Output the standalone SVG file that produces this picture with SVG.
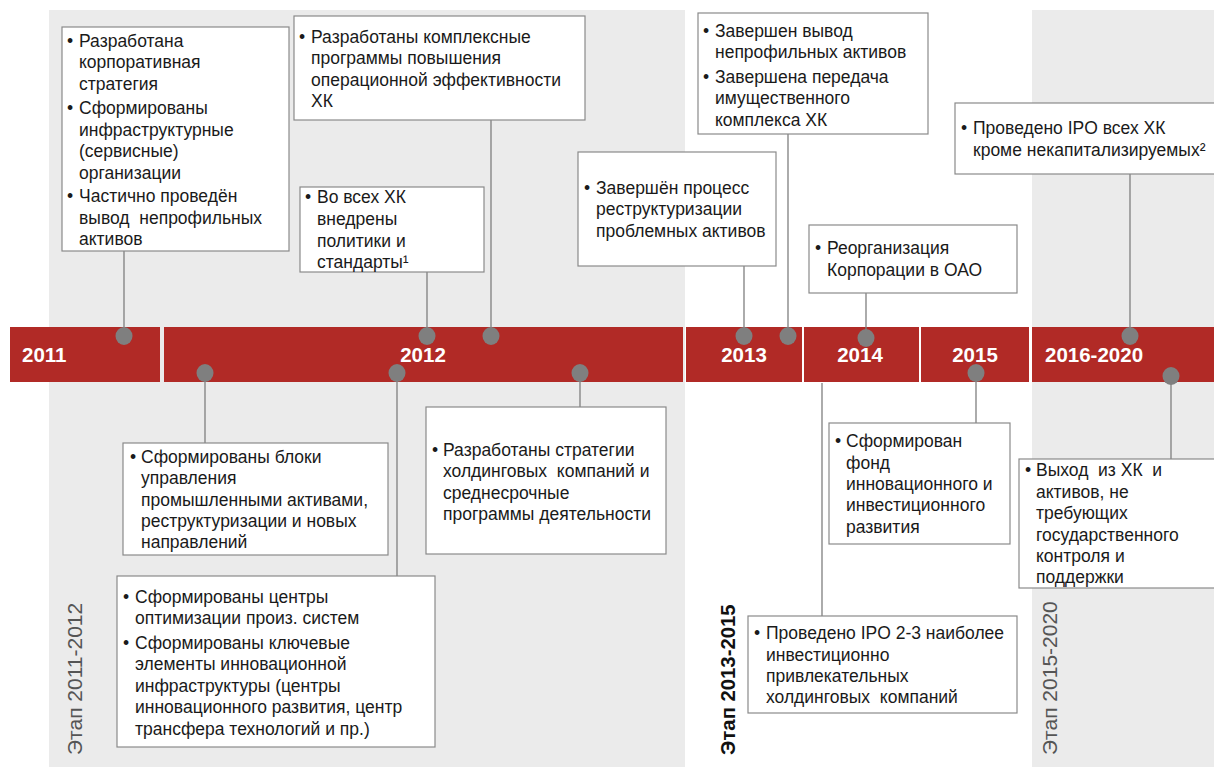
<svg xmlns="http://www.w3.org/2000/svg" width="1214" height="767" viewBox="0 0 1214 767">
<style>
.bg{fill:#ebebeb}
.seg{fill:#b12a26}
.box{fill:#fff;stroke:#8a8a8a;stroke-width:1.2}
.t{font-family:"Liberation Sans",Arial,sans-serif;font-size:17.5px;fill:#1a1a1a}
.yr{font-family:"Liberation Sans",Arial,sans-serif;font-size:20.5px;font-weight:bold;fill:#fff}
.stage{font-family:"Liberation Sans",Arial,sans-serif;font-size:21px;fill:#555}
.con line{stroke:#7f7f7f;stroke-width:1.3}
.dot{fill:#7f7f7f}
</style>
<rect width="1214" height="767" fill="#fff"/>
<g id="backgrounds">
<rect class="bg" x="49" y="10" width="636" height="757"/>
<rect class="bg" x="1032" y="10" width="182" height="757"/>
</g>
<g id="stages">
<text class="stage" transform="translate(82,755) rotate(-90)">Этап 2011-2012</text>
<text class="stage" transform="translate(735,755) rotate(-90)" style="fill:#111;font-weight:bold;font-size:20.3px">Этап 2013-2015</text>
<text class="stage" transform="translate(1057,755) rotate(-90)">Этап 2015-2020</text>
</g>
<g id="timeline">
<rect class="seg" x="10" y="327" width="150" height="55"/>
<rect class="seg" x="164" y="327" width="519" height="55"/>
<rect class="seg" x="686" y="327" width="116" height="55"/>
<rect class="seg" x="804" y="327" width="115" height="55"/>
<rect class="seg" x="921" y="327" width="108" height="55"/>
<rect class="seg" x="1032" y="327" width="182" height="55"/>
<text class="yr" x="22" y="362">2011</text>
<text class="yr" x="423" y="362" text-anchor="middle">2012</text>
<text class="yr" x="744" y="362" text-anchor="middle">2013</text>
<text class="yr" x="860" y="362" text-anchor="middle">2014</text>
<text class="yr" x="975" y="362" text-anchor="middle">2015</text>
<text class="yr" x="1045" y="362">2016-2020</text>
</g>
<g id="connectors" class="con">
<line x1="124" y1="251" x2="124" y2="335"/>
<line x1="491" y1="120" x2="491" y2="335"/>
<line x1="427" y1="272" x2="427" y2="335"/>
<line x1="744" y1="266" x2="744" y2="335"/>
<line x1="788" y1="134" x2="788" y2="335"/>
<line x1="866" y1="293" x2="866" y2="338"/>
<line x1="1130" y1="174" x2="1130" y2="336"/>
<line x1="205" y1="372" x2="205" y2="443"/>
<line x1="397" y1="372" x2="397" y2="576"/>
<line x1="580" y1="372" x2="580" y2="407"/>
<line x1="822" y1="383" x2="822" y2="616"/>
<line x1="976" y1="372" x2="976" y2="423"/>
<line x1="1171" y1="376" x2="1171" y2="459"/>
<ellipse class="dot" cx="124" cy="336" rx="8.5" ry="9"/>
<ellipse class="dot" cx="491" cy="336" rx="8.5" ry="9"/>
<ellipse class="dot" cx="427" cy="336" rx="8.5" ry="9"/>
<ellipse class="dot" cx="744" cy="336" rx="8.5" ry="9"/>
<ellipse class="dot" cx="788" cy="336" rx="8.5" ry="9"/>
<ellipse class="dot" cx="866" cy="338" rx="8.5" ry="9"/>
<ellipse class="dot" cx="1130" cy="336" rx="8.5" ry="9"/>
<ellipse class="dot" cx="205" cy="373" rx="8.5" ry="9"/>
<ellipse class="dot" cx="397" cy="373" rx="8.5" ry="9"/>
<ellipse class="dot" cx="580" cy="373" rx="8.5" ry="9"/>
<ellipse class="dot" cx="976" cy="373" rx="8.5" ry="9"/>
<ellipse class="dot" cx="1171" cy="376" rx="8.5" ry="9"/>
</g>
<g id="boxA">
<rect class="box" x="62" y="27" width="227" height="224"/>
<text class="t"><tspan x="67" y="47">•</tspan><tspan x="79" y="47">Разработана</tspan><tspan x="79" y="68">корпоративная</tspan><tspan x="79" y="90">стратегия</tspan><tspan x="67" y="114">•</tspan><tspan x="79" y="114">Сформированы</tspan><tspan x="79" y="136">инфраструктурные</tspan><tspan x="79" y="157">(сервисные)</tspan><tspan x="79" y="179">организации</tspan><tspan x="67" y="202">•</tspan><tspan x="79" y="202">Частично проведён</tspan><tspan x="79" y="224">вывод&#160; непрофильных</tspan><tspan x="79" y="245">активов</tspan></text>
</g>
<g id="boxB">
<rect class="box" x="294" y="16" width="291" height="104"/>
<text class="t"><tspan x="299" y="43">•</tspan><tspan x="311" y="43">Разработаны комплексные</tspan><tspan x="311" y="64">программы повышения</tspan><tspan x="311" y="86">операционной эффективности</tspan><tspan x="311" y="107">ХК</tspan></text>
</g>
<g id="boxC">
<rect class="box" x="300" y="187" width="184" height="85"/>
<text class="t"><tspan x="305" y="203">•</tspan><tspan x="317" y="203">Во всех ХК</tspan><tspan x="317" y="225">внедрены</tspan><tspan x="317" y="247">политики и</tspan><tspan x="317" y="268">стандарты¹</tspan></text>
</g>
<g id="boxD">
<rect class="box" x="578" y="152" width="198" height="114"/>
<text class="t"><tspan x="584" y="194">•</tspan><tspan x="596" y="194">Завершён процесс</tspan><tspan x="596" y="215">реструктуризации</tspan><tspan x="596" y="237">проблемных активов</tspan></text>
</g>
<g id="boxE">
<rect class="box" x="698" y="13" width="230" height="121"/>
<text class="t"><tspan x="703" y="37">•</tspan><tspan x="715" y="37">Завершен вывод</tspan><tspan x="715" y="58">непрофильных активов</tspan><tspan x="703" y="83">•</tspan><tspan x="715" y="83">Завершена передача</tspan><tspan x="715" y="104">имущественного</tspan><tspan x="715" y="126">комплекса ХК</tspan></text>
</g>
<g id="boxF">
<rect class="box" x="809" y="225" width="208" height="68"/>
<text class="t"><tspan x="815" y="254">•</tspan><tspan x="827" y="254">Реорганизация</tspan><tspan x="827" y="276">Корпорации в ОАО</tspan></text>
</g>
<g id="boxG">
<rect class="box" x="955" y="103" width="265" height="71"/>
<text class="t"><tspan x="961" y="134">•</tspan><tspan x="973" y="134">Проведено IPO всех ХК</tspan><tspan x="973" y="156">кроме некапитализируемых²</tspan></text>
</g>
<g id="boxH">
<rect class="box" x="123" y="443" width="265" height="112"/>
<text class="t"><tspan x="130" y="463">•</tspan><tspan x="141" y="463">Сформированы блоки</tspan><tspan x="141" y="484">управления</tspan><tspan x="141" y="506">промышленными активами,</tspan><tspan x="141" y="527">реструктуризации и новых</tspan><tspan x="141" y="548">направлений</tspan></text>
</g>
<g id="boxI">
<rect class="box" x="117" y="576" width="318" height="171"/>
<text class="t"><tspan x="123" y="603">•</tspan><tspan x="135" y="603">Сформированы центры</tspan><tspan x="135" y="624">оптимизации произ. систем</tspan><tspan x="123" y="649">•</tspan><tspan x="135" y="649">Сформированы ключевые</tspan><tspan x="135" y="670">элементы инновационной</tspan><tspan x="135" y="692">инфраструктуры (центры</tspan><tspan x="135" y="713">инновационного развития, центр</tspan><tspan x="135" y="735">трансфера технологий и пр.)</tspan></text>
</g>
<g id="boxJ">
<rect class="box" x="426" y="407" width="240" height="147"/>
<text class="t"><tspan x="432" y="456">•</tspan><tspan x="443" y="456">Разработаны стратегии</tspan><tspan x="443" y="477">холдинговых&#160; компаний и</tspan><tspan x="443" y="499">среднесрочные</tspan><tspan x="443" y="520">программы деятельности</tspan></text>
</g>
<g id="boxK">
<rect class="box" x="748" y="616" width="269" height="97"/>
<text class="t"><tspan x="754" y="639">•</tspan><tspan x="766" y="639">Проведено IPO 2-3 наиболее</tspan><tspan x="766" y="661">инвестиционно</tspan><tspan x="766" y="682">привлекательных</tspan><tspan x="766" y="703">холдинговых&#160; компаний</tspan></text>
</g>
<g id="boxL">
<rect class="box" x="829" y="423" width="181" height="121"/>
<text class="t"><tspan x="835" y="447">•</tspan><tspan x="846" y="447">Сформирован</tspan><tspan x="846" y="469">фонд</tspan><tspan x="846" y="490">инновационного и</tspan><tspan x="846" y="511">инвестиционного</tspan><tspan x="846" y="533">развития</tspan></text>
</g>
<g id="boxM">
<rect class="box" x="1019" y="459" width="200" height="129"/>
<text class="t"><tspan x="1025" y="476">•</tspan><tspan x="1036" y="476">Выход&#160; из ХК&#160; и</tspan><tspan x="1036" y="498">активов, не</tspan><tspan x="1036" y="519">требующих</tspan><tspan x="1036" y="541">государственного</tspan><tspan x="1036" y="562">контроля и</tspan><tspan x="1036" y="583">поддержки</tspan></text>
</g>
</svg>
